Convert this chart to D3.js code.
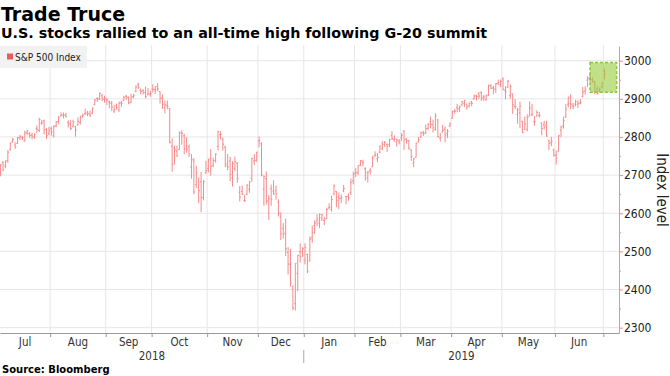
<!DOCTYPE html>
<html>
<head>
<meta charset="utf-8">
<script src="https://cdn.jsdelivr.net/npm/d3@7"></script>
<style>
  body { margin: 0; background: #fff; }
  text { font-family: "DejaVu Sans Condensed", "DejaVu Sans", sans-serif; }
  .head { font-family: "DejaVu Sans", sans-serif; font-weight: bold; }
</style>
</head>
<body>
<svg id="chart" width="670" height="376"></svg>
<script>
// trading days, Jul 2018 - Jul 2019
const dates = [
  "2018-07-02","2018-07-03","2018-07-05","2018-07-06","2018-07-09","2018-07-10","2018-07-11","2018-07-12","2018-07-13","2018-07-16","2018-07-17","2018-07-18","2018-07-19","2018-07-20","2018-07-23","2018-07-24","2018-07-25","2018-07-26","2018-07-27","2018-07-30","2018-07-31",
  "2018-08-01","2018-08-02","2018-08-03","2018-08-06","2018-08-07","2018-08-08","2018-08-09","2018-08-10","2018-08-13","2018-08-14","2018-08-15","2018-08-16","2018-08-17","2018-08-20","2018-08-21","2018-08-22","2018-08-23","2018-08-24","2018-08-27","2018-08-28","2018-08-29","2018-08-30","2018-08-31",
  "2018-09-04","2018-09-05","2018-09-06","2018-09-07","2018-09-10","2018-09-11","2018-09-12","2018-09-13","2018-09-14","2018-09-17","2018-09-18","2018-09-19","2018-09-20","2018-09-21","2018-09-24","2018-09-25","2018-09-26","2018-09-27","2018-09-28",
  "2018-10-01","2018-10-02","2018-10-03","2018-10-04","2018-10-05","2018-10-08","2018-10-09","2018-10-10","2018-10-11","2018-10-12","2018-10-15","2018-10-16","2018-10-17","2018-10-18","2018-10-19","2018-10-22","2018-10-23","2018-10-24","2018-10-25","2018-10-26","2018-10-29","2018-10-30","2018-10-31",
  "2018-11-01","2018-11-02","2018-11-05","2018-11-06","2018-11-07","2018-11-08","2018-11-09","2018-11-12","2018-11-13","2018-11-14","2018-11-15","2018-11-16","2018-11-19","2018-11-20","2018-11-21","2018-11-23","2018-11-26","2018-11-27","2018-11-28","2018-11-29","2018-11-30",
  "2018-12-03","2018-12-04","2018-12-06","2018-12-07","2018-12-10","2018-12-11","2018-12-12","2018-12-13","2018-12-14","2018-12-17","2018-12-18","2018-12-19","2018-12-20","2018-12-21","2018-12-24","2018-12-26","2018-12-27","2018-12-28","2018-12-31",
  "2019-01-02","2019-01-03","2019-01-04","2019-01-07","2019-01-08","2019-01-09","2019-01-10","2019-01-11","2019-01-14","2019-01-15","2019-01-16","2019-01-17","2019-01-18","2019-01-22","2019-01-23","2019-01-24","2019-01-25","2019-01-28","2019-01-29","2019-01-30","2019-01-31",
  "2019-02-01","2019-02-04","2019-02-05","2019-02-06","2019-02-07","2019-02-08","2019-02-11","2019-02-12","2019-02-13","2019-02-14","2019-02-15","2019-02-19","2019-02-20","2019-02-21","2019-02-22","2019-02-25","2019-02-26","2019-02-27","2019-02-28",
  "2019-03-01","2019-03-04","2019-03-05","2019-03-06","2019-03-07","2019-03-08","2019-03-11","2019-03-12","2019-03-13","2019-03-14","2019-03-15","2019-03-18","2019-03-19","2019-03-20","2019-03-21","2019-03-22","2019-03-25","2019-03-26","2019-03-27","2019-03-28","2019-03-29",
  "2019-04-01","2019-04-02","2019-04-03","2019-04-04","2019-04-05","2019-04-08","2019-04-09","2019-04-10","2019-04-11","2019-04-12","2019-04-15","2019-04-16","2019-04-17","2019-04-18","2019-04-22","2019-04-23","2019-04-24","2019-04-25","2019-04-26","2019-04-29","2019-04-30",
  "2019-05-01","2019-05-02","2019-05-03","2019-05-06","2019-05-07","2019-05-08","2019-05-09","2019-05-10","2019-05-13","2019-05-14","2019-05-15","2019-05-16","2019-05-17","2019-05-20","2019-05-21","2019-05-22","2019-05-23","2019-05-24","2019-05-28","2019-05-29","2019-05-30","2019-05-31",
  "2019-06-03","2019-06-04","2019-06-05","2019-06-06","2019-06-07","2019-06-10","2019-06-11","2019-06-12","2019-06-13","2019-06-14","2019-06-17","2019-06-18","2019-06-19","2019-06-20","2019-06-21","2019-06-24","2019-06-25","2019-06-26","2019-06-27","2019-06-28",
  "2019-07-01"
];

// S&P 500 Index, one row per month
const open = [
  2704,2733,2724,2738,2766,2789,2779,2783,2797,2799,2790,2811,2809,2805,2800,2822,2817,2836,2842,2820,2809,
  2822,2803,2829,2841,2855,2857,2857,2838,2835,2827,2827,2831,2838,2854,2861,2860,2860,2862,2885,2901,2900,2908,2898,
  2897,2892,2889,2868,2882,2871,2889,2896,2907,2903,2891,2906,2919,2937,2922,2922,2917,2911,2911,
  2926,2924,2932,2919,2902,2877,2883,2874,2776,2771,2763,2767,2812,2803,2776,2774,2721,2737,2675,2667,2683,2641,2706,
  2717,2745,2726,2738,2775,2806,2794,2773,2730,2737,2693,2718,2731,2655,2657,2633,2649,2663,2692,2737,2738,
  2790,2782,2663,2691,2631,2664,2658,2659,2629,2590,2560,2548,2497,2466,2401,2363,2442,2499,2499,
  2477,2492,2475,2536,2568,2580,2574,2588,2581,2586,2614,2610,2651,2657,2643,2639,2658,2644,2644,2654,2685,
  2703,2706,2727,2735,2717,2693,2712,2722,2751,2743,2760,2769,2782,2780,2780,2804,2793,2787,2789,
  2798,2815,2795,2790,2766,2731,2747,2787,2800,2811,2811,2823,2840,2832,2819,2845,2797,2813,2820,2809,2828,
  2849,2868,2877,2874,2884,2888,2886,2881,2892,2900,2908,2913,2917,2904,2898,2910,2935,2929,2926,2940,2937,
  2952,2922,2930,2909,2913,2880,2859,2863,2841,2820,2820,2855,2858,2841,2855,2856,2837,2832,2831,2790,2786,2766,
  2752,2763,2818,2829,2853,2886,2904,2882,2886,2886,2889,2906,2920,2949,2952,2951,2945,2926,2920,2932,
  2972
];
const high = [
  2727,2736,2737,2764,2784,2796,2785,2799,2804,2802,2815,2817,2812,2810,2808,2829,2849,2843,2844,2822,2825,
  2826,2830,2840,2853,2863,2863,2862,2842,2843,2844,2827,2850,2855,2860,2873,2867,2868,2876,2898,2903,2916,2912,2907,
  2901,2894,2893,2883,2886,2892,2894,2906,2909,2905,2912,2912,2934,2941,2926,2924,2931,2927,2920,
  2937,2932,2940,2919,2910,2894,2894,2875,2795,2776,2776,2813,2816,2807,2798,2779,2754,2743,2723,2693,2707,2686,2736,
  2742,2767,2745,2756,2815,2814,2797,2776,2754,2747,2735,2747,2733,2670,2671,2647,2675,2683,2744,2754,2760,
  2800,2785,2698,2708,2646,2674,2685,2671,2635,2601,2573,2585,2510,2505,2410,2468,2490,2520,2510,
  2520,2493,2538,2566,2580,2596,2598,2597,2589,2613,2625,2645,2675,2657,2653,2648,2673,2644,2651,2690,2708,
  2717,2725,2738,2739,2719,2709,2718,2749,2761,2757,2776,2788,2788,2782,2794,2814,2803,2795,2793,
  2809,2817,2795,2791,2766,2744,2784,2798,2813,2815,2831,2835,2852,2844,2861,2846,2809,2830,2826,2819,2837,
  2868,2872,2885,2881,2893,2896,2886,2889,2893,2910,2909,2917,2918,2909,2910,2936,2937,2933,2940,2949,2949,
  2955,2932,2948,2937,2913,2898,2875,2891,2841,2852,2858,2892,2886,2853,2869,2865,2837,2841,2841,2792,2799,2768,
  2763,2804,2828,2852,2885,2905,2911,2888,2896,2895,2898,2930,2932,2958,2965,2955,2946,2933,2929,2943,
  2978
];
const low = [
  2698,2712,2719,2733,2766,2786,2770,2783,2793,2793,2789,2806,2799,2795,2796,2811,2814,2833,2808,2796,2806,
  2805,2800,2827,2835,2855,2850,2853,2826,2819,2827,2802,2831,2834,2851,2859,2856,2854,2862,2885,2893,2898,2895,2891,
  2885,2876,2869,2864,2873,2867,2880,2896,2899,2887,2890,2903,2919,2927,2913,2913,2903,2910,2907,
  2918,2914,2921,2889,2875,2863,2874,2784,2710,2729,2749,2767,2781,2756,2760,2749,2692,2651,2668,2628,2604,2635,2705,
  2708,2700,2722,2734,2766,2795,2765,2722,2714,2685,2671,2712,2681,2632,2649,2631,2649,2655,2684,2728,2736,
  2774,2698,2621,2624,2584,2621,2650,2637,2593,2531,2535,2489,2441,2409,2347,2346,2397,2472,2487,
  2467,2444,2475,2524,2547,2568,2562,2581,2570,2586,2612,2606,2648,2617,2612,2628,2657,2625,2634,2649,2677,
  2696,2701,2725,2724,2687,2682,2703,2722,2749,2735,2758,2767,2775,2762,2775,2794,2789,2776,2782,
  2790,2767,2784,2768,2739,2722,2747,2787,2799,2804,2809,2819,2824,2813,2818,2800,2789,2813,2787,2799,2827,
  2849,2862,2866,2867,2883,2880,2873,2879,2882,2899,2897,2901,2896,2896,2896,2909,2927,2913,2917,2937,2932,
  2924,2900,2930,2901,2862,2874,2836,2825,2811,2820,2816,2855,2856,2831,2855,2852,2806,2820,2802,2767,2777,2750,
  2729,2763,2801,2823,2851,2879,2874,2874,2882,2877,2887,2905,2912,2932,2946,2944,2913,2912,2918,2929,
  2952
];
const close = [
  2727,2713,2737,2760,2784,2794,2774,2798,2801,2798,2810,2816,2804,2802,2807,2820,2846,2837,2819,2803,2816,
  2813,2827,2840,2850,2858,2858,2854,2833,2822,2840,2818,2841,2850,2857,2863,2862,2857,2875,2897,2898,2914,2901,2902,
  2897,2889,2878,2872,2877,2888,2889,2904,2905,2889,2904,2908,2931,2930,2919,2916,2906,2914,2914,
  2925,2923,2926,2902,2886,2884,2880,2786,2728,2767,2751,2810,2809,2769,2768,2756,2741,2656,2706,2659,2641,2683,2712,
  2740,2723,2738,2755,2814,2807,2781,2726,2722,2702,2730,2736,2691,2642,2650,2633,2673,2682,2744,2738,2760,
  2790,2700,2696,2633,2638,2637,2651,2651,2600,2546,2546,2507,2467,2417,2351,2468,2489,2486,2507,
  2510,2448,2532,2550,2574,2585,2597,2596,2583,2610,2616,2636,2671,2633,2639,2642,2665,2644,2640,2681,2704,
  2707,2725,2738,2732,2706,2708,2710,2745,2753,2746,2776,2780,2785,2775,2793,2796,2794,2792,2784,
  2804,2793,2790,2771,2749,2743,2783,2792,2811,2808,2822,2833,2833,2824,2855,2801,2798,2818,2805,2815,2834,
  2867,2867,2873,2879,2893,2896,2878,2888,2888,2907,2906,2907,2900,2905,2908,2934,2927,2926,2940,2943,2946,
  2924,2918,2946,2932,2884,2879,2871,2881,2812,2834,2851,2876,2860,2840,2864,2856,2822,2826,2802,2783,2789,2752,
  2744,2803,2826,2843,2873,2887,2886,2880,2892,2887,2890,2918,2926,2954,2950,2945,2917,2914,2925,2942,
  2964
];

const yTicks = [2300, 2400, 2500, 2600, 2700, 2800, 2900, 3000];
const yMinor = [2350, 2450, 2550, 2650, 2750, 2850, 2950];

// green box round the post G-20 days
const hiStart = "2019-06-21", hiSlots = 11, hiLow = 2917, hiHigh = 2995;

const svg = d3.select("#chart");
const plotTop = 46, plotBottom = 333, plotRight = 619;
const n = Math.min(dates.length, open.length, high.length, low.length, close.length);

const x = d3.scaleLinear().domain([-0.26, 256]).range([0, plotRight]);
const y = d3.scaleLinear().domain([2286, 3038.5]).range([plotBottom, plotTop]);

const parse = d3.timeParse("%Y-%m-%d");
const days = dates.map(parse);

// first trading day of each month / year
const monthStarts = d3.range(n).filter(i => i === 0 || days[i].getMonth() !== days[i - 1].getMonth());
const yearStarts = d3.range(n).filter(i => i === 0 || days[i].getFullYear() !== days[i - 1].getFullYear());

// grid
svg.append("g").selectAll("line").data(yTicks).join("line")
  .attr("x1", 0).attr("x2", plotRight)
  .attr("y1", d => y(d)).attr("y2", d => y(d))
  .attr("stroke", "#e6e6e6");
svg.append("g").selectAll("line").data(monthStarts.slice(1)).join("line")
  .attr("x1", i => x(i - 0.5)).attr("x2", i => x(i - 0.5))
  .attr("y1", plotTop - 1).attr("y2", plotBottom)
  .attr("stroke", "#e6e6e6");

// legend
svg.append("rect").attr("x", 0).attr("y", 46).attr("width", 87).attr("height", 22).attr("fill", "#f2f2f2");
svg.append("rect").attr("x", 7).attr("y", 53.5).attr("width", 6).attr("height", 6).attr("fill", "#f0585a");
svg.append("text").attr("x", 15).attr("y", 61).attr("font-size", 10).attr("fill", "#222").text("S&P 500 Index");

// OHLC bars
const barColor = "#f58a8b";
const bars = svg.append("g").attr("stroke", barColor).attr("stroke-width", 1)
  .selectAll("g").data(d3.range(n)).join("g");
bars.append("line")
  .attr("x1", i => x(i)).attr("x2", i => x(i))
  .attr("y1", i => y(high[i]) - 0.5).attr("y2", i => y(low[i]) + 0.5);
bars.append("line")
  .attr("x1", i => x(i - 0.5)).attr("x2", i => x(i))
  .attr("y1", i => y(open[i])).attr("y2", i => y(open[i]));
bars.append("line")
  .attr("x1", i => x(i)).attr("x2", i => x(i + 0.5))
  .attr("y1", i => y(close[i])).attr("y2", i => y(close[i]));

// highlight box
const hi = dates.indexOf(hiStart);
svg.append("rect")
  .attr("x", x(hi)).attr("width", x(hi + hiSlots) - x(hi))
  .attr("y", y(hiHigh)).attr("height", y(hiLow) - y(hiHigh))
  .attr("fill", "rgba(150,205,60,0.6)")
  .attr("stroke", "#8cc43c").attr("stroke-width", 1.5).attr("stroke-dasharray", "3,2");

// x axis
const xAxis = svg.append("g").attr("transform", `translate(0,${plotBottom})`)
  .call(d3.axisBottom(x).tickValues(monthStarts.slice(1).map(i => i - 0.5)).tickFormat("").tickSize(4).tickSizeOuter(0));
xAxis.select(".domain").attr("stroke", "#999");
xAxis.selectAll(".tick line").attr("stroke", "#999");

const edges = monthStarts.map(i => x(i - 0.5)).concat([plotRight]);
const fmtMonth = d3.timeFormat("%b");
svg.append("g").selectAll("text")
  .data(monthStarts.filter((s, k) => (monthStarts[k + 1] ?? n) - s > 5))
  .join("text")
  .attr("x", i => { const k = monthStarts.indexOf(i); return (Math.max(edges[k], 0) + edges[k + 1]) / 2; })
  .attr("y", 346).attr("text-anchor", "middle").attr("font-size", 11.5).attr("fill", "#333")
  .text(i => fmtMonth(days[i]));

const yEdges = yearStarts.map(i => x(i - 0.5)).concat([plotRight]);
svg.append("g").selectAll("text").data(yearStarts).join("text")
  .attr("x", (i, k) => (Math.max(yEdges[k], 0) + yEdges[k + 1]) / 2)
  .attr("y", 360).attr("text-anchor", "middle").attr("font-size", 11.5).attr("fill", "#333")
  .text(i => days[i].getFullYear());
svg.append("g").selectAll("line").data(yearStarts.slice(1)).join("line")
  .attr("x1", i => x(i - 0.5)).attr("x2", i => x(i - 0.5))
  .attr("y1", 350).attr("y2", 363).attr("stroke", "#aaa");

// y axis on the right
const yAxis = svg.append("g").attr("transform", `translate(${plotRight},0)`)
  .call(d3.axisRight(y).tickValues(yTicks).tickFormat(d3.format("d")).tickSize(4).tickPadding(1).tickSizeOuter(0));
yAxis.select(".domain").attr("stroke", "#f28c8e");
yAxis.selectAll(".tick line").attr("stroke", "#f28c8e");
yAxis.selectAll(".tick text").attr("font-size", 12).attr("fill", "#222")
  .style("font-family", '"DejaVu Sans Condensed", "DejaVu Sans", sans-serif');
svg.append("g").attr("transform", `translate(${plotRight},0)`)
  .call(d3.axisRight(y).tickValues(yMinor).tickSize(2).tickFormat("").tickSizeOuter(0))
  .call(g => g.select(".domain").remove())
  .selectAll(".tick line").attr("stroke", "#f28c8e");

svg.append("text").attr("transform", "translate(657,190) rotate(90)")
  .attr("text-anchor", "middle").attr("font-size", 15).attr("fill", "#222").text("Index level");

// titles
svg.append("text").attr("class", "head").attr("x", 1).attr("y", 21).attr("font-size", 19).text("Trade Truce");
svg.append("text").attr("class", "head").attr("x", 1).attr("y", 38).attr("font-size", 14.3)
  .text("U.S. stocks rallied to an all-time high following G-20 summit");
svg.append("text").attr("class", "head").attr("x", 2).attr("y", 373).attr("font-size", 10).text("Source: Bloomberg");
</script>
</body>
</html>
